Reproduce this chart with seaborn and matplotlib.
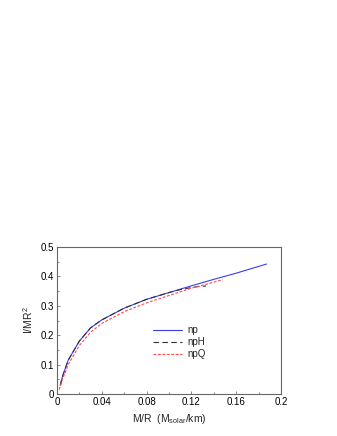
import matplotlib
matplotlib.use("Agg")
import matplotlib.pyplot as plt
import seaborn as sns
import pandas as pd
from matplotlib.ticker import MultipleLocator

np_x = [0.003, 0.005, 0.01, 0.02, 0.03, 0.04, 0.06, 0.08, 0.10, 0.12, 0.14, 0.16, 0.187]
np_y = [0.030, 0.060, 0.115, 0.180, 0.225, 0.252, 0.292, 0.322, 0.345, 0.368, 0.390, 0.411, 0.442]

npH_x = [0.003, 0.005, 0.01, 0.02, 0.03, 0.04, 0.06, 0.08, 0.10, 0.11, 0.12, 0.127, 0.133]
npH_y = [0.030, 0.060, 0.115, 0.180, 0.225, 0.252, 0.292, 0.322, 0.345, 0.355, 0.362, 0.366, 0.367]

npQ_x = [0.002, 0.005, 0.01, 0.02, 0.03, 0.04, 0.06, 0.08, 0.10, 0.12, 0.135, 0.148]
npQ_y = [0.015, 0.050, 0.100, 0.165, 0.210, 0.240, 0.280, 0.310, 0.335, 0.360, 0.375, 0.389]

sns.set_theme(style="white")
plt.rcParams['font.family'] = ['Liberation Sans', 'DejaVu Sans']

fig = plt.figure(figsize=(3.37, 4.36), dpi=100)
ax = fig.add_axes([0.169, 0.0963, 0.665, 0.3372])

df_np = pd.DataFrame({"x": np_x, "y": np_y})
df_H = pd.DataFrame({"x": npH_x, "y": npH_y})
df_Q = pd.DataFrame({"x": npQ_x, "y": npQ_y})

sns.lineplot(data=df_np, x="x", y="y", ax=ax, color="#3b3bf0", lw=0.8, sort=False)
l_np = ax.lines[-1]
sns.lineplot(data=df_H, x="x", y="y", ax=ax, color="#333333", lw=0.8, sort=False)
l_H = ax.lines[-1]
l_H.set_dashes([5, 3])
sns.lineplot(data=df_Q, x="x", y="y", ax=ax, color="#ff4a4a", lw=0.8, sort=False)
l_Q = ax.lines[-1]
l_Q.set_dashes([2.5, 1.5])

ax.set_xlim(0, 0.2)
ax.set_ylim(0, 0.5)
ax.set_xticks([0, 0.04, 0.08, 0.12, 0.16, 0.2])
ax.set_xticklabels(["0", "0.04", "0.08", "0.12", "0.16", "0.2"])
ax.set_yticks([0, 0.1, 0.2, 0.3, 0.4, 0.5])
ax.set_yticklabels(["0", "0.1", "0.2", "0.3", "0.4", "0.5"])
ax.xaxis.set_minor_locator(MultipleLocator(0.02))
ax.yaxis.set_minor_locator(MultipleLocator(0.05))
ax.tick_params(which="major", direction="in", length=2.5, width=0.5, labelsize=7, pad=2,
               bottom=True, left=True, colors="#555555", labelcolor="black")
ax.tick_params(which="minor", direction="in", length=1.5, width=0.5,
               bottom=True, left=True, colors="#555555")
for s in ax.spines.values():
    s.set_color("#666666")
    s.set_linewidth(0.8)

ax.set_xlabel(r"M/R  (M$_{\mathregular{solar}}$/km)", fontsize=7.5, labelpad=4)
ax.set_ylabel(r"I/MR$^{\mathregular{2}}$", fontsize=7.5, labelpad=4)

leg = ax.legend([l_np, l_H, l_Q], ["np", "npH", "npQ"], loc="upper left",
                bbox_to_anchor=(0.41, 0.495), frameon=False, fontsize=7,
                handlelength=3.0, labelspacing=0.2, handletextpad=0.6, borderaxespad=0)

fig.savefig("out.png", dpi=100)
